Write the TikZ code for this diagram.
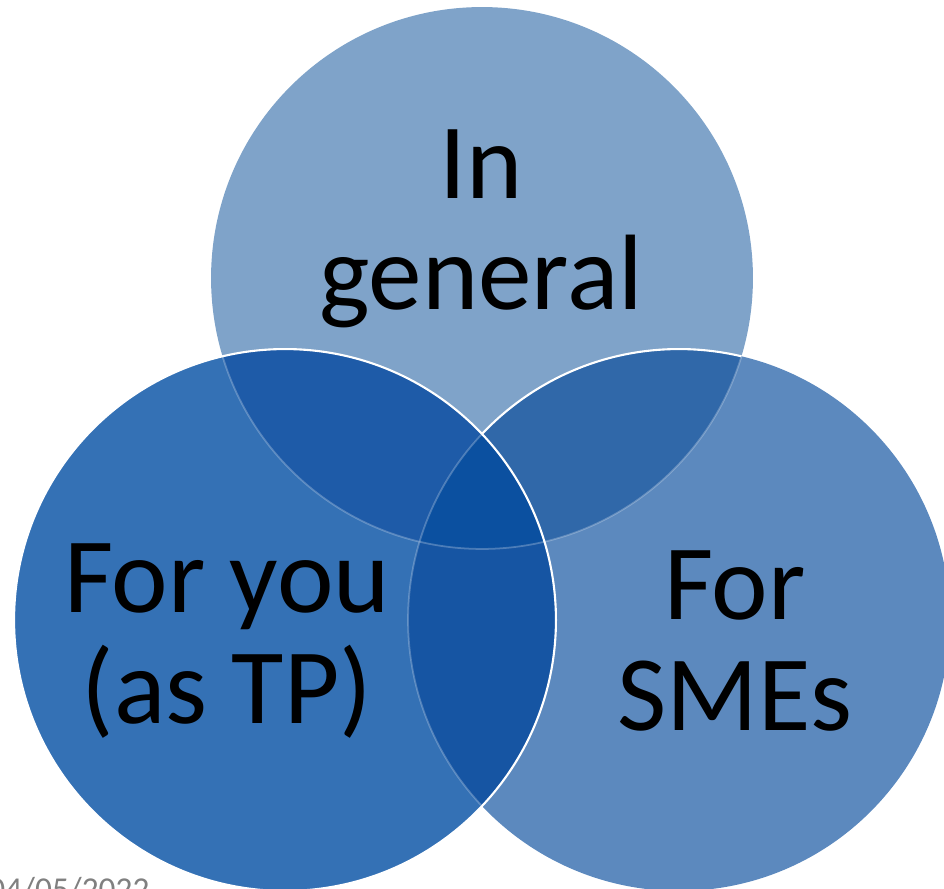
\documentclass[tikz,border=0pt]{standalone}
\usepackage{fontspec}
\setmainfont{Carlito}
\usetikzlibrary{positioning}

\definecolor{topfill}{HTML}{7FA3C9}
\definecolor{rightfill}{HTML}{5C89BE}
\definecolor{leftfill}{HTML}{3471B5}
\definecolor{topright}{HTML}{3068A9}
\definecolor{topleft}{HTML}{1E5BA8}
\definecolor{leftright}{HTML}{1655A3}
\definecolor{allthree}{HTML}{0B50A0}
\definecolor{titleblue}{HTML}{004AAD}

\def\rr{5.42cm}

\begin{document}
\begin{tikzpicture}[
    x=0.02cm, y=-0.02cm,
    rim/.style={draw=white, line width=1.2pt},
    faint/.style={draw=white, line width=1pt, draw opacity=0.25},
    label/.style={font=\fontsize{61}{63.5}\selectfont, align=center, text=black}
]

% Frame
\clip (0,0) rectangle (944,889);

% Centres
\coordinate (topc) at (482,278);
\coordinate (rightc) at (679,620);
\coordinate (leftc) at (285,620);

% Top circle
\fill [topfill] (topc) circle[radius=\rr];

% Right circle
\fill [rightfill] (rightc) circle[radius=\rr];
\begin{scope}
    \clip (topc) circle[radius=\rr];
    \fill [topright] (rightc) circle[radius=\rr];
    \draw [rim] (rightc) circle[radius=\rr];
\end{scope}
\begin{scope}
    \clip (rightc) circle[radius=\rr];
    \draw [faint] (topc) circle[radius=\rr];
\end{scope}

% Left circle
\fill [leftfill] (leftc) circle[radius=\rr];
\begin{scope}
    \clip (leftc) circle[radius=\rr];
    \fill [leftright] (rightc) circle[radius=\rr];
    \begin{scope}
        \clip (topc) circle[radius=\rr];
        \fill [topleft] (leftc) circle[radius=\rr];
        \clip (rightc) circle[radius=\rr];
        \fill [allthree] (leftc) circle[radius=\rr];
    \end{scope}
    \draw [faint] (topc) circle[radius=\rr];
    \draw [faint] (rightc) circle[radius=\rr];
\end{scope}
\draw [rim] (leftc) circle[radius=\rr];

% Labels
\node [label] (general) at (481,229) {In\\general};
\node [label] (you) at (227,641) {For you\\(as TP)};
\node [label] (smes) at (735,641) {For\\SMEs};

% Cut-off texts at the edges
\node [anchor=base west, inner sep=0pt, text=titleblue, font=\fontsize{49}{58}\selectfont] (title) at (639,-14) {gy};
\node [anchor=base west, inner sep=0pt, text=gray, font=\fontsize{19}{23}\selectfont] (date) at (-12,900) {04/05/2022};

\end{tikzpicture}
\end{document}
